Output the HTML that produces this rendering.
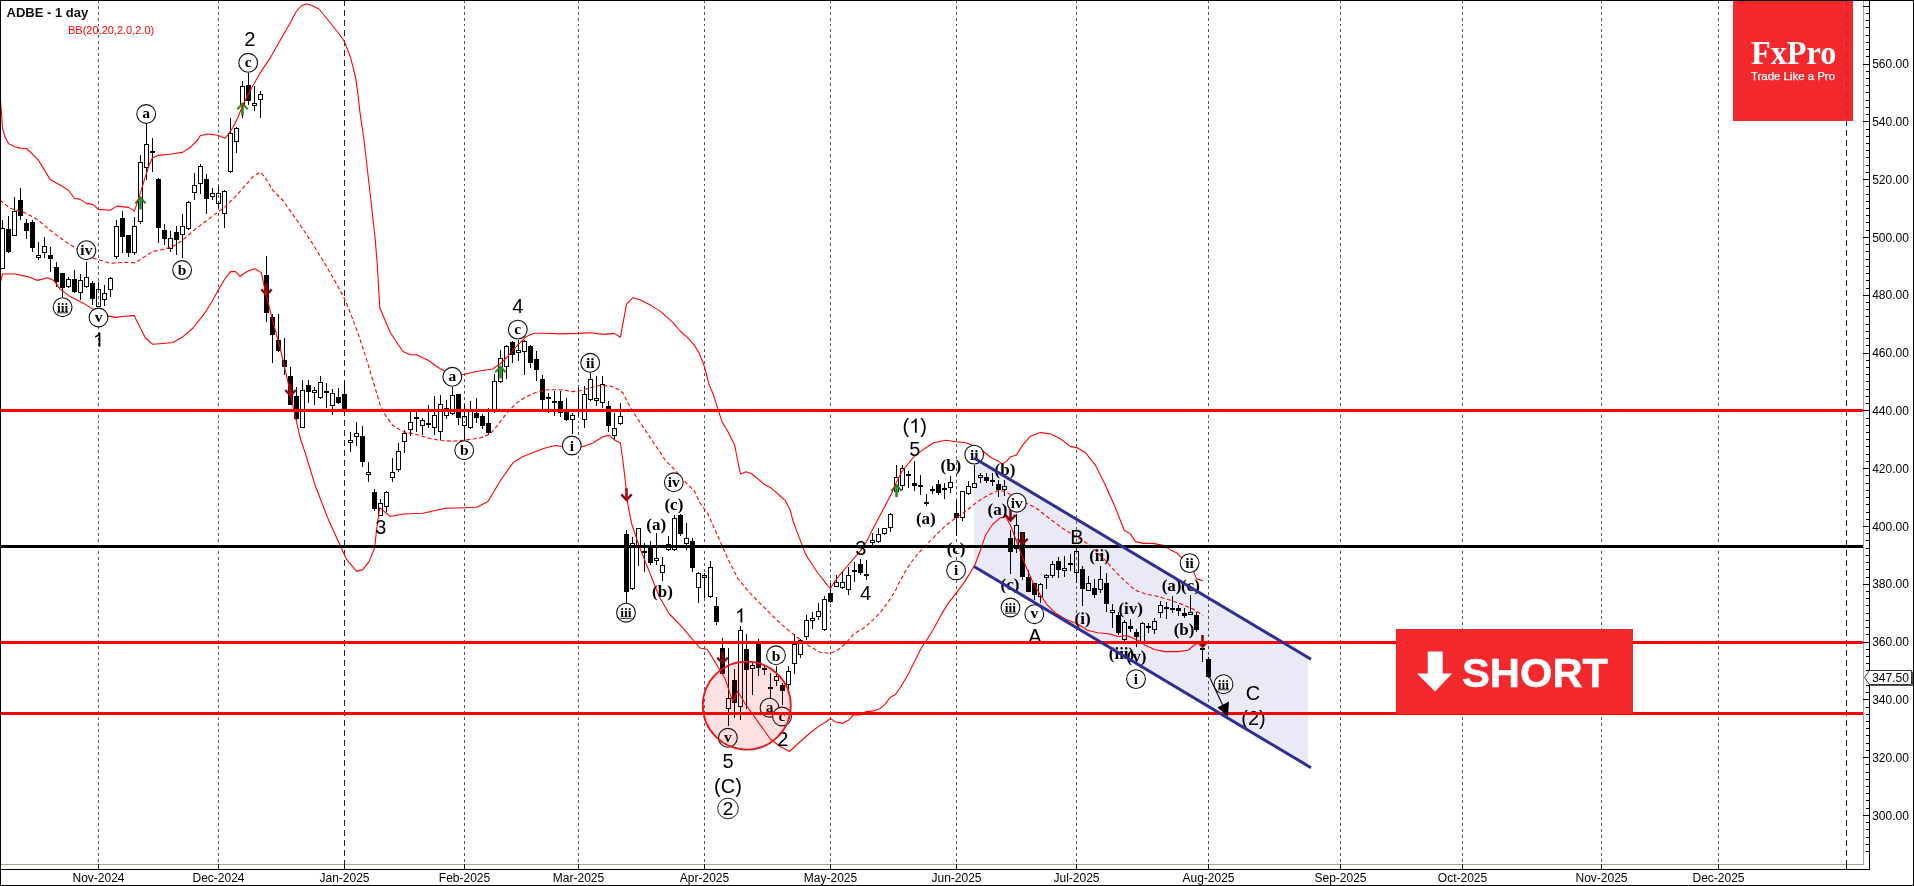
<!DOCTYPE html>
<html><head><meta charset="utf-8"><title>ADBE - 1 day</title>
<style>html,body{margin:0;padding:0;background:#fff;overflow:hidden}body{width:1914px;height:886px;font-family:"Liberation Sans",sans-serif}svg{display:block;will-change:transform}.ax{font:12px "Liberation Sans",sans-serif;fill:#000}.sn{font:20px "Liberation Sans",sans-serif;fill:#000;text-anchor:middle}.cs{font:bold 15.5px "Liberation Serif",serif;fill:#000;text-anchor:middle}.ps{font:bold 17px "Liberation Serif",serif;fill:#000;text-anchor:middle}</style></head><body>
<svg width="1914" height="886" viewBox="0 0 1914 886">
<rect x="0" y="0" width="1914" height="886" fill="#fff"/>
<polygon points="974,458 1308,658 1308,766.5 974,566.5" fill="#eaeaf6"/>
<g stroke="#555" stroke-width="1" stroke-dasharray="2.96 2.965" shape-rendering="crispEdges">
<line x1="98.5" y1="-0.175" x2="98.5" y2="864"/>
<line x1="218.5" y1="-0.175" x2="218.5" y2="864"/>
<line x1="464.5" y1="-0.175" x2="464.5" y2="864"/>
<line x1="578.5" y1="-0.175" x2="578.5" y2="864"/>
<line x1="704.5" y1="-0.175" x2="704.5" y2="864"/>
<line x1="830.5" y1="-0.175" x2="830.5" y2="864"/>
<line x1="956.5" y1="-0.175" x2="956.5" y2="864"/>
<line x1="1076.5" y1="-0.175" x2="1076.5" y2="864"/>
<line x1="1208.5" y1="-0.175" x2="1208.5" y2="864"/>
<line x1="1340.5" y1="-0.175" x2="1340.5" y2="864"/>
<line x1="1462.5" y1="-0.175" x2="1462.5" y2="864"/>
<line x1="1601.5" y1="-0.175" x2="1601.5" y2="864"/>
<line x1="1718.5" y1="-0.175" x2="1718.5" y2="864"/>
</g>
<line x1="344.5" y1="0" x2="344.5" y2="864" stroke="#222" stroke-width="1" stroke-dasharray="6 4" shape-rendering="crispEdges"/>
<line x1="1846.5" y1="0" x2="1846.5" y2="864" stroke="#222" stroke-width="1" stroke-dasharray="6 4" shape-rendering="crispEdges"/>
<g stroke="#000" stroke-width="1" fill="none" shape-rendering="crispEdges">
<line x1="2.5" y1="220" x2="2.5" y2="228"/>
<rect x="0.5" y="228.5" width="4" height="40"/>
<line x1="8.5" y1="216" x2="8.5" y2="253"/>
<rect x="6" y="229" width="5" height="23" fill="#000" stroke="none"/>
<line x1="14.5" y1="197" x2="14.5" y2="211"/>
<rect x="12.5" y="211.5" width="4" height="24"/>
<line x1="20.5" y1="188" x2="20.5" y2="220"/>
<rect x="18" y="200" width="5" height="16" fill="#000" stroke="none"/>
<line x1="26.5" y1="219" x2="26.5" y2="239"/>
<rect x="24" y="223" width="5" height="8" fill="#000" stroke="none"/>
<line x1="32.5" y1="220" x2="32.5" y2="252"/>
<rect x="30" y="222" width="5" height="26" fill="#000" stroke="none"/>
<line x1="38.5" y1="242" x2="38.5" y2="255"/>
<line x1="38.5" y1="258" x2="38.5" y2="260"/>
<rect x="36.5" y="255.5" width="4" height="2"/>
<line x1="44.5" y1="237" x2="44.5" y2="246"/>
<line x1="44.5" y1="253" x2="44.5" y2="258"/>
<rect x="42.5" y="246.5" width="4" height="6"/>
<line x1="50.5" y1="247" x2="50.5" y2="272"/>
<rect x="48" y="255" width="5" height="4" fill="#000" stroke="none"/>
<line x1="56.5" y1="262" x2="56.5" y2="287"/>
<rect x="54" y="267" width="5" height="15" fill="#000" stroke="none"/>
<line x1="62.5" y1="273" x2="62.5" y2="297"/>
<rect x="60" y="273" width="5" height="15" fill="#000" stroke="none"/>
<line x1="68.5" y1="277" x2="68.5" y2="279"/>
<line x1="68.5" y1="287" x2="68.5" y2="288"/>
<rect x="66.5" y="279.5" width="4" height="7"/>
<line x1="74.5" y1="270" x2="74.5" y2="293"/>
<rect x="72" y="279" width="5" height="13" fill="#000" stroke="none"/>
<line x1="80.5" y1="274" x2="80.5" y2="280"/>
<line x1="80.5" y1="293" x2="80.5" y2="300"/>
<rect x="78.5" y="280.5" width="4" height="12"/>
<line x1="86.5" y1="262" x2="86.5" y2="277"/>
<line x1="86.5" y1="287" x2="86.5" y2="288"/>
<rect x="84.5" y="277.5" width="4" height="9"/>
<line x1="92.5" y1="281" x2="92.5" y2="305"/>
<rect x="90" y="283" width="5" height="16" fill="#000" stroke="none"/>
<line x1="98.5" y1="282" x2="98.5" y2="289"/>
<rect x="96.5" y="289.5" width="4" height="17"/>
<line x1="104.5" y1="285" x2="104.5" y2="293"/>
<line x1="104.5" y1="300" x2="104.5" y2="306"/>
<rect x="102.5" y="293.5" width="4" height="6"/>
<line x1="110.5" y1="277" x2="110.5" y2="278"/>
<line x1="110.5" y1="290" x2="110.5" y2="297"/>
<rect x="108.5" y="278.5" width="4" height="11"/>
<line x1="116.5" y1="220" x2="116.5" y2="226"/>
<line x1="116.5" y1="257" x2="116.5" y2="259"/>
<rect x="114.5" y="226.5" width="4" height="30"/>
<line x1="122.5" y1="211" x2="122.5" y2="253"/>
<rect x="120" y="218" width="5" height="19" fill="#000" stroke="none"/>
<line x1="128.5" y1="235" x2="128.5" y2="257"/>
<rect x="126" y="235" width="5" height="18" fill="#000" stroke="none"/>
<line x1="134.5" y1="217" x2="134.5" y2="226"/>
<line x1="134.5" y1="253" x2="134.5" y2="255"/>
<rect x="132.5" y="226.5" width="4" height="26"/>
<line x1="140.5" y1="155" x2="140.5" y2="162"/>
<line x1="140.5" y1="222" x2="140.5" y2="224"/>
<rect x="138.5" y="162.5" width="4" height="59"/>
<line x1="146.5" y1="123" x2="146.5" y2="144"/>
<line x1="146.5" y1="168" x2="146.5" y2="180"/>
<rect x="144.5" y="144.5" width="4" height="23"/>
<line x1="152.5" y1="138" x2="152.5" y2="172"/>
<rect x="150" y="151" width="5" height="2" fill="#000" stroke="none"/>
<line x1="158.5" y1="178" x2="158.5" y2="243"/>
<rect x="156" y="179" width="5" height="49" fill="#000" stroke="none"/>
<line x1="164.5" y1="224" x2="164.5" y2="245"/>
<rect x="162" y="230" width="5" height="9" fill="#000" stroke="none"/>
<line x1="170.5" y1="231" x2="170.5" y2="238"/>
<line x1="170.5" y1="249" x2="170.5" y2="252"/>
<rect x="168.5" y="238.5" width="4" height="10"/>
<line x1="176.5" y1="226" x2="176.5" y2="255"/>
<rect x="174" y="232" width="5" height="8" fill="#000" stroke="none"/>
<line x1="182.5" y1="214" x2="182.5" y2="226"/>
<line x1="182.5" y1="235" x2="182.5" y2="258"/>
<rect x="180.5" y="226.5" width="4" height="8"/>
<line x1="188.5" y1="201" x2="188.5" y2="202"/>
<line x1="188.5" y1="229" x2="188.5" y2="230"/>
<rect x="186.5" y="202.5" width="4" height="26"/>
<line x1="194.5" y1="173" x2="194.5" y2="185"/>
<line x1="194.5" y1="193" x2="194.5" y2="200"/>
<rect x="192.5" y="185.5" width="4" height="7"/>
<line x1="200.5" y1="164" x2="200.5" y2="166"/>
<line x1="200.5" y1="184" x2="200.5" y2="194"/>
<rect x="198.5" y="166.5" width="4" height="17"/>
<line x1="206.5" y1="174" x2="206.5" y2="214"/>
<rect x="204" y="179" width="5" height="20" fill="#000" stroke="none"/>
<line x1="212.5" y1="188" x2="212.5" y2="193"/>
<line x1="212.5" y1="197" x2="212.5" y2="200"/>
<rect x="210.5" y="193.5" width="4" height="3"/>
<line x1="218.5" y1="186" x2="218.5" y2="193"/>
<line x1="218.5" y1="204" x2="218.5" y2="208"/>
<rect x="216.5" y="193.5" width="4" height="10"/>
<line x1="224.5" y1="190" x2="224.5" y2="191"/>
<line x1="224.5" y1="214" x2="224.5" y2="228"/>
<rect x="222.5" y="191.5" width="4" height="22"/>
<line x1="230.5" y1="118" x2="230.5" y2="133"/>
<line x1="230.5" y1="172" x2="230.5" y2="173"/>
<rect x="228.5" y="133.5" width="4" height="38"/>
<line x1="236.5" y1="127" x2="236.5" y2="128"/>
<line x1="236.5" y1="142" x2="236.5" y2="153"/>
<rect x="234.5" y="128.5" width="4" height="13"/>
<line x1="242.5" y1="81" x2="242.5" y2="86"/>
<line x1="242.5" y1="106" x2="242.5" y2="118"/>
<rect x="240.5" y="86.5" width="4" height="19"/>
<line x1="248.5" y1="73" x2="248.5" y2="105"/>
<rect x="246" y="85" width="5" height="16" fill="#000" stroke="none"/>
<line x1="254.5" y1="86" x2="254.5" y2="103"/>
<line x1="254.5" y1="106" x2="254.5" y2="111"/>
<rect x="252.5" y="103.5" width="4" height="2"/>
<line x1="260.5" y1="91" x2="260.5" y2="94"/>
<line x1="260.5" y1="100" x2="260.5" y2="118"/>
<rect x="258.5" y="94.5" width="4" height="5"/>
<line x1="266.5" y1="256" x2="266.5" y2="322"/>
<rect x="264" y="275" width="5" height="38" fill="#000" stroke="none"/>
<line x1="272.5" y1="314" x2="272.5" y2="363"/>
<rect x="270" y="317" width="5" height="18" fill="#000" stroke="none"/>
<line x1="278.5" y1="314" x2="278.5" y2="352"/>
<rect x="276" y="340" width="5" height="11" fill="#000" stroke="none"/>
<line x1="284.5" y1="338" x2="284.5" y2="375"/>
<rect x="282" y="360" width="5" height="7" fill="#000" stroke="none"/>
<line x1="290.5" y1="367" x2="290.5" y2="405"/>
<rect x="288" y="376" width="5" height="29" fill="#000" stroke="none"/>
<line x1="296.5" y1="387" x2="296.5" y2="420"/>
<rect x="294" y="396" width="5" height="23" fill="#000" stroke="none"/>
<line x1="302.5" y1="380" x2="302.5" y2="390"/>
<rect x="300.5" y="390.5" width="4" height="37"/>
<line x1="308.5" y1="380" x2="308.5" y2="403"/>
<rect x="306" y="385" width="5" height="7" fill="#000" stroke="none"/>
<line x1="314.5" y1="387" x2="314.5" y2="390"/>
<line x1="314.5" y1="393" x2="314.5" y2="405"/>
<rect x="312.5" y="390.5" width="4" height="2"/>
<line x1="320.5" y1="376" x2="320.5" y2="382"/>
<line x1="320.5" y1="398" x2="320.5" y2="399"/>
<rect x="318.5" y="382.5" width="4" height="15"/>
<line x1="326.5" y1="383" x2="326.5" y2="408"/>
<rect x="324" y="391" width="5" height="2" fill="#000" stroke="none"/>
<line x1="332.5" y1="389" x2="332.5" y2="393"/>
<line x1="332.5" y1="406" x2="332.5" y2="415"/>
<rect x="330.5" y="393.5" width="4" height="12"/>
<line x1="338.5" y1="388" x2="338.5" y2="404"/>
<rect x="336" y="397" width="5" height="6" fill="#000" stroke="none"/>
<line x1="344.5" y1="381" x2="344.5" y2="411"/>
<rect x="342" y="394" width="5" height="16" fill="#000" stroke="none"/>
<line x1="350.5" y1="432" x2="350.5" y2="440"/>
<line x1="350.5" y1="443" x2="350.5" y2="452"/>
<rect x="348.5" y="440.5" width="4" height="2"/>
<line x1="356.5" y1="422" x2="356.5" y2="433"/>
<line x1="356.5" y1="437" x2="356.5" y2="446"/>
<rect x="354.5" y="433.5" width="4" height="3"/>
<line x1="362.5" y1="426" x2="362.5" y2="467"/>
<rect x="360" y="436" width="5" height="26" fill="#000" stroke="none"/>
<line x1="368.5" y1="462" x2="368.5" y2="472"/>
<line x1="368.5" y1="475" x2="368.5" y2="482"/>
<rect x="366.5" y="472.5" width="4" height="2"/>
<line x1="374.5" y1="489" x2="374.5" y2="511"/>
<rect x="372" y="492" width="5" height="17" fill="#000" stroke="none"/>
<line x1="380.5" y1="499" x2="380.5" y2="503"/>
<rect x="378.5" y="503.5" width="4" height="12"/>
<line x1="386.5" y1="491" x2="386.5" y2="492"/>
<line x1="386.5" y1="507" x2="386.5" y2="512"/>
<rect x="384.5" y="492.5" width="4" height="14"/>
<line x1="392.5" y1="458" x2="392.5" y2="472"/>
<line x1="392.5" y1="478" x2="392.5" y2="482"/>
<rect x="390.5" y="472.5" width="4" height="5"/>
<line x1="398.5" y1="443" x2="398.5" y2="451"/>
<line x1="398.5" y1="470" x2="398.5" y2="472"/>
<rect x="396.5" y="451.5" width="4" height="18"/>
<line x1="404.5" y1="430" x2="404.5" y2="433"/>
<line x1="404.5" y1="442" x2="404.5" y2="453"/>
<rect x="402.5" y="433.5" width="4" height="8"/>
<line x1="410.5" y1="412" x2="410.5" y2="422"/>
<line x1="410.5" y1="430" x2="410.5" y2="436"/>
<rect x="408.5" y="422.5" width="4" height="7"/>
<line x1="416.5" y1="412" x2="416.5" y2="432"/>
<rect x="414" y="417" width="5" height="2" fill="#000" stroke="none"/>
<line x1="422.5" y1="418" x2="422.5" y2="420"/>
<line x1="422.5" y1="426" x2="422.5" y2="435"/>
<rect x="420.5" y="420.5" width="4" height="5"/>
<line x1="428.5" y1="405" x2="428.5" y2="428"/>
<rect x="426" y="423" width="5" height="2" fill="#000" stroke="none"/>
<line x1="434.5" y1="396" x2="434.5" y2="415"/>
<line x1="434.5" y1="428" x2="434.5" y2="435"/>
<rect x="432.5" y="415.5" width="4" height="12"/>
<line x1="440.5" y1="395" x2="440.5" y2="404"/>
<line x1="440.5" y1="432" x2="440.5" y2="440"/>
<rect x="438.5" y="404.5" width="4" height="27"/>
<line x1="446.5" y1="400" x2="446.5" y2="408"/>
<line x1="446.5" y1="416" x2="446.5" y2="419"/>
<rect x="444.5" y="408.5" width="4" height="7"/>
<line x1="452.5" y1="387" x2="452.5" y2="395"/>
<line x1="452.5" y1="414" x2="452.5" y2="415"/>
<rect x="450.5" y="395.5" width="4" height="18"/>
<line x1="458.5" y1="394" x2="458.5" y2="425"/>
<rect x="456" y="394" width="5" height="24" fill="#000" stroke="none"/>
<line x1="464.5" y1="404" x2="464.5" y2="416"/>
<line x1="464.5" y1="426" x2="464.5" y2="440"/>
<rect x="462.5" y="416.5" width="4" height="9"/>
<line x1="470.5" y1="401" x2="470.5" y2="410"/>
<line x1="470.5" y1="428" x2="470.5" y2="429"/>
<rect x="468.5" y="410.5" width="4" height="17"/>
<line x1="476.5" y1="398" x2="476.5" y2="423"/>
<rect x="474" y="413" width="5" height="5" fill="#000" stroke="none"/>
<line x1="482.5" y1="414" x2="482.5" y2="429"/>
<rect x="480" y="416" width="5" height="10" fill="#000" stroke="none"/>
<line x1="488.5" y1="408" x2="488.5" y2="435"/>
<rect x="486" y="423" width="5" height="10" fill="#000" stroke="none"/>
<line x1="494.5" y1="374" x2="494.5" y2="381"/>
<line x1="494.5" y1="410" x2="494.5" y2="413"/>
<rect x="492.5" y="381.5" width="4" height="28"/>
<line x1="500.5" y1="350" x2="500.5" y2="358"/>
<line x1="500.5" y1="382" x2="500.5" y2="383"/>
<rect x="498.5" y="358.5" width="4" height="23"/>
<line x1="506.5" y1="345" x2="506.5" y2="346"/>
<line x1="506.5" y1="367" x2="506.5" y2="379"/>
<rect x="504.5" y="346.5" width="4" height="20"/>
<line x1="512.5" y1="341" x2="512.5" y2="363"/>
<rect x="510" y="342" width="5" height="13" fill="#000" stroke="none"/>
<line x1="518.5" y1="340" x2="518.5" y2="350"/>
<line x1="518.5" y1="353" x2="518.5" y2="361"/>
<rect x="516.5" y="350.5" width="4" height="2"/>
<line x1="524.5" y1="340" x2="524.5" y2="341"/>
<line x1="524.5" y1="352" x2="524.5" y2="375"/>
<rect x="522.5" y="341.5" width="4" height="10"/>
<line x1="530.5" y1="345" x2="530.5" y2="368"/>
<rect x="528" y="346" width="5" height="17" fill="#000" stroke="none"/>
<line x1="536.5" y1="351" x2="536.5" y2="381"/>
<rect x="534" y="359" width="5" height="11" fill="#000" stroke="none"/>
<line x1="542.5" y1="375" x2="542.5" y2="410"/>
<rect x="540" y="379" width="5" height="21" fill="#000" stroke="none"/>
<line x1="548.5" y1="393" x2="548.5" y2="413"/>
<rect x="546" y="397" width="5" height="2" fill="#000" stroke="none"/>
<line x1="554.5" y1="391" x2="554.5" y2="416"/>
<rect x="552" y="401" width="5" height="2" fill="#000" stroke="none"/>
<line x1="560.5" y1="391" x2="560.5" y2="417"/>
<rect x="558" y="401" width="5" height="12" fill="#000" stroke="none"/>
<line x1="566.5" y1="398" x2="566.5" y2="421"/>
<rect x="564" y="410" width="5" height="10" fill="#000" stroke="none"/>
<line x1="572.5" y1="413" x2="572.5" y2="415"/>
<line x1="572.5" y1="420" x2="572.5" y2="434"/>
<rect x="570.5" y="415.5" width="4" height="4"/>
<line x1="578.5" y1="388" x2="578.5" y2="416"/>
<rect x="576" y="410" width="5" height="2" fill="#000" stroke="none"/>
<line x1="584.5" y1="386" x2="584.5" y2="394"/>
<line x1="584.5" y1="420" x2="584.5" y2="428"/>
<rect x="582.5" y="394.5" width="4" height="25"/>
<line x1="590.5" y1="373" x2="590.5" y2="379"/>
<line x1="590.5" y1="400" x2="590.5" y2="401"/>
<rect x="588.5" y="379.5" width="4" height="20"/>
<line x1="596.5" y1="376" x2="596.5" y2="398"/>
<line x1="596.5" y1="401" x2="596.5" y2="406"/>
<rect x="594.5" y="398.5" width="4" height="2"/>
<line x1="602.5" y1="376" x2="602.5" y2="384"/>
<line x1="602.5" y1="403" x2="602.5" y2="408"/>
<rect x="600.5" y="384.5" width="4" height="18"/>
<line x1="608.5" y1="401" x2="608.5" y2="432"/>
<rect x="606" y="406" width="5" height="20" fill="#000" stroke="none"/>
<line x1="614.5" y1="413" x2="614.5" y2="428"/>
<line x1="614.5" y1="436" x2="614.5" y2="440"/>
<rect x="612.5" y="428.5" width="4" height="7"/>
<line x1="620.5" y1="403" x2="620.5" y2="416"/>
<line x1="620.5" y1="424" x2="620.5" y2="425"/>
<rect x="618.5" y="416.5" width="4" height="7"/>
<line x1="626.5" y1="530" x2="626.5" y2="603"/>
<rect x="624" y="534" width="5" height="58" fill="#000" stroke="none"/>
<line x1="632.5" y1="537" x2="632.5" y2="543"/>
<line x1="632.5" y1="589" x2="632.5" y2="590"/>
<rect x="630.5" y="543.5" width="4" height="45"/>
<line x1="638.5" y1="548" x2="638.5" y2="566"/>
<rect x="636.5" y="528.5" width="4" height="19"/>
<line x1="644.5" y1="543" x2="644.5" y2="572"/>
<rect x="642" y="551" width="5" height="2" fill="#000" stroke="none"/>
<line x1="650.5" y1="541" x2="650.5" y2="565"/>
<rect x="648" y="546" width="5" height="17" fill="#000" stroke="none"/>
<line x1="656.5" y1="533" x2="656.5" y2="558"/>
<line x1="656.5" y1="561" x2="656.5" y2="565"/>
<rect x="654.5" y="558.5" width="4" height="2"/>
<line x1="662.5" y1="557" x2="662.5" y2="565"/>
<line x1="662.5" y1="573" x2="662.5" y2="581"/>
<rect x="660.5" y="565.5" width="4" height="7"/>
<line x1="668.5" y1="536" x2="668.5" y2="544"/>
<line x1="668.5" y1="550" x2="668.5" y2="551"/>
<rect x="666.5" y="544.5" width="4" height="5"/>
<line x1="674.5" y1="515" x2="674.5" y2="518"/>
<line x1="674.5" y1="550" x2="674.5" y2="551"/>
<rect x="672.5" y="518.5" width="4" height="31"/>
<line x1="680.5" y1="514" x2="680.5" y2="536"/>
<rect x="678" y="515" width="5" height="19" fill="#000" stroke="none"/>
<line x1="686.5" y1="523" x2="686.5" y2="538"/>
<line x1="686.5" y1="544" x2="686.5" y2="550"/>
<rect x="684.5" y="538.5" width="4" height="5"/>
<line x1="692.5" y1="538" x2="692.5" y2="572"/>
<rect x="690" y="541" width="5" height="27" fill="#000" stroke="none"/>
<line x1="698.5" y1="572" x2="698.5" y2="573"/>
<line x1="698.5" y1="588" x2="698.5" y2="603"/>
<rect x="696.5" y="573.5" width="4" height="14"/>
<line x1="704.5" y1="573" x2="704.5" y2="575"/>
<line x1="704.5" y1="578" x2="704.5" y2="598"/>
<rect x="702.5" y="575.5" width="4" height="2"/>
<line x1="710.5" y1="561" x2="710.5" y2="567"/>
<line x1="710.5" y1="597" x2="710.5" y2="598"/>
<rect x="708.5" y="567.5" width="4" height="29"/>
<line x1="716.5" y1="597" x2="716.5" y2="625"/>
<rect x="714" y="606" width="5" height="16" fill="#000" stroke="none"/>
<line x1="722.5" y1="638" x2="722.5" y2="675"/>
<rect x="720" y="648" width="5" height="26" fill="#000" stroke="none"/>
<line x1="728.5" y1="648" x2="728.5" y2="698"/>
<line x1="728.5" y1="709" x2="728.5" y2="726"/>
<rect x="726.5" y="698.5" width="4" height="10"/>
<line x1="734.5" y1="669" x2="734.5" y2="718"/>
<rect x="732" y="680" width="5" height="23" fill="#000" stroke="none"/>
<line x1="740.5" y1="626" x2="740.5" y2="630"/>
<line x1="740.5" y1="707" x2="740.5" y2="720"/>
<rect x="738.5" y="630.5" width="4" height="76"/>
<line x1="746.5" y1="634" x2="746.5" y2="709"/>
<rect x="744" y="649" width="5" height="21" fill="#000" stroke="none"/>
<line x1="752.5" y1="663" x2="752.5" y2="665"/>
<line x1="752.5" y1="669" x2="752.5" y2="695"/>
<rect x="750.5" y="665.5" width="4" height="3"/>
<line x1="758.5" y1="639" x2="758.5" y2="676"/>
<rect x="756" y="644" width="5" height="24" fill="#000" stroke="none"/>
<line x1="764.5" y1="665" x2="764.5" y2="675"/>
<rect x="762" y="668" width="5" height="2" fill="#000" stroke="none"/>
<line x1="770.5" y1="673" x2="770.5" y2="698"/>
<rect x="768" y="687" width="5" height="2" fill="#000" stroke="none"/>
<line x1="776.5" y1="666" x2="776.5" y2="676"/>
<line x1="776.5" y1="681" x2="776.5" y2="686"/>
<rect x="774.5" y="676.5" width="4" height="4"/>
<line x1="782.5" y1="683" x2="782.5" y2="705"/>
<rect x="780" y="685" width="5" height="6" fill="#000" stroke="none"/>
<line x1="788.5" y1="666" x2="788.5" y2="671"/>
<line x1="788.5" y1="685" x2="788.5" y2="689"/>
<rect x="786.5" y="671.5" width="4" height="13"/>
<line x1="794.5" y1="634" x2="794.5" y2="644"/>
<line x1="794.5" y1="664" x2="794.5" y2="674"/>
<rect x="792.5" y="644.5" width="4" height="19"/>
<line x1="800.5" y1="639" x2="800.5" y2="640"/>
<line x1="800.5" y1="655" x2="800.5" y2="658"/>
<rect x="798.5" y="640.5" width="4" height="14"/>
<line x1="806.5" y1="615" x2="806.5" y2="620"/>
<line x1="806.5" y1="637" x2="806.5" y2="640"/>
<rect x="804.5" y="620.5" width="4" height="16"/>
<line x1="812.5" y1="612" x2="812.5" y2="618"/>
<line x1="812.5" y1="621" x2="812.5" y2="629"/>
<rect x="810.5" y="618.5" width="4" height="2"/>
<line x1="818.5" y1="603" x2="818.5" y2="611"/>
<line x1="818.5" y1="617" x2="818.5" y2="620"/>
<rect x="816.5" y="611.5" width="4" height="5"/>
<line x1="824.5" y1="596" x2="824.5" y2="599"/>
<line x1="824.5" y1="630" x2="824.5" y2="631"/>
<rect x="822.5" y="599.5" width="4" height="30"/>
<line x1="830.5" y1="583" x2="830.5" y2="603"/>
<rect x="828" y="593" width="5" height="9" fill="#000" stroke="none"/>
<line x1="836.5" y1="575" x2="836.5" y2="582"/>
<rect x="834.5" y="582.5" width="4" height="4"/>
<line x1="842.5" y1="572" x2="842.5" y2="582"/>
<line x1="842.5" y1="588" x2="842.5" y2="589"/>
<rect x="840.5" y="582.5" width="4" height="5"/>
<line x1="848.5" y1="567" x2="848.5" y2="575"/>
<line x1="848.5" y1="590" x2="848.5" y2="595"/>
<rect x="846.5" y="575.5" width="4" height="14"/>
<line x1="854.5" y1="562" x2="854.5" y2="582"/>
<rect x="852" y="570" width="5" height="2" fill="#000" stroke="none"/>
<line x1="860.5" y1="559" x2="860.5" y2="575"/>
<rect x="858" y="564" width="5" height="9" fill="#000" stroke="none"/>
<line x1="866.5" y1="560" x2="866.5" y2="580"/>
<rect x="864" y="574" width="5" height="2" fill="#000" stroke="none"/>
<line x1="872.5" y1="533" x2="872.5" y2="540"/>
<line x1="872.5" y1="543" x2="872.5" y2="548"/>
<rect x="870.5" y="540.5" width="4" height="2"/>
<line x1="878.5" y1="528" x2="878.5" y2="534"/>
<line x1="878.5" y1="542" x2="878.5" y2="543"/>
<rect x="876.5" y="534.5" width="4" height="7"/>
<line x1="884.5" y1="534" x2="884.5" y2="535"/>
<rect x="882.5" y="528.5" width="4" height="5"/>
<line x1="890.5" y1="513" x2="890.5" y2="514"/>
<line x1="890.5" y1="528" x2="890.5" y2="532"/>
<rect x="888.5" y="514.5" width="4" height="13"/>
<line x1="896.5" y1="465" x2="896.5" y2="477"/>
<line x1="896.5" y1="492" x2="896.5" y2="496"/>
<rect x="894.5" y="477.5" width="4" height="14"/>
<line x1="902.5" y1="465" x2="902.5" y2="468"/>
<line x1="902.5" y1="486" x2="902.5" y2="490"/>
<rect x="900.5" y="468.5" width="4" height="17"/>
<line x1="908.5" y1="471" x2="908.5" y2="488"/>
<rect x="906" y="474" width="5" height="2" fill="#000" stroke="none"/>
<line x1="914.5" y1="461" x2="914.5" y2="491"/>
<rect x="912" y="483" width="5" height="3" fill="#000" stroke="none"/>
<line x1="920.5" y1="475" x2="920.5" y2="495"/>
<rect x="918" y="485" width="5" height="2" fill="#000" stroke="none"/>
<line x1="926.5" y1="494" x2="926.5" y2="506"/>
<rect x="924" y="502" width="5" height="2" fill="#000" stroke="none"/>
<line x1="932.5" y1="486" x2="932.5" y2="494"/>
<rect x="930" y="489" width="5" height="2" fill="#000" stroke="none"/>
<line x1="938.5" y1="480" x2="938.5" y2="495"/>
<rect x="936" y="484" width="5" height="9" fill="#000" stroke="none"/>
<line x1="944.5" y1="483" x2="944.5" y2="499"/>
<rect x="942" y="488" width="5" height="2" fill="#000" stroke="none"/>
<line x1="950.5" y1="476" x2="950.5" y2="482"/>
<line x1="950.5" y1="488" x2="950.5" y2="493"/>
<rect x="948.5" y="482.5" width="4" height="5"/>
<line x1="956.5" y1="500" x2="956.5" y2="536"/>
<rect x="954" y="513" width="5" height="5" fill="#000" stroke="none"/>
<line x1="962.5" y1="518" x2="962.5" y2="521"/>
<rect x="960.5" y="491.5" width="4" height="26"/>
<line x1="968.5" y1="481" x2="968.5" y2="486"/>
<line x1="968.5" y1="494" x2="968.5" y2="495"/>
<rect x="966.5" y="486.5" width="4" height="7"/>
<line x1="974.5" y1="465" x2="974.5" y2="483"/>
<rect x="972.5" y="483.5" width="4" height="4"/>
<line x1="980.5" y1="473" x2="980.5" y2="475"/>
<line x1="980.5" y1="478" x2="980.5" y2="483"/>
<rect x="978.5" y="475.5" width="4" height="2"/>
<line x1="986.5" y1="473" x2="986.5" y2="483"/>
<rect x="984" y="477" width="5" height="4" fill="#000" stroke="none"/>
<line x1="992.5" y1="473" x2="992.5" y2="486"/>
<rect x="990" y="480" width="5" height="2" fill="#000" stroke="none"/>
<line x1="998.5" y1="480" x2="998.5" y2="497"/>
<rect x="996" y="484" width="5" height="6" fill="#000" stroke="none"/>
<line x1="1004.5" y1="480" x2="1004.5" y2="486"/>
<line x1="1004.5" y1="490" x2="1004.5" y2="496"/>
<rect x="1002.5" y="486.5" width="4" height="3"/>
<line x1="1010.5" y1="530" x2="1010.5" y2="574"/>
<rect x="1008" y="538" width="5" height="14" fill="#000" stroke="none"/>
<line x1="1016.5" y1="514" x2="1016.5" y2="525"/>
<line x1="1016.5" y1="549" x2="1016.5" y2="553"/>
<rect x="1014.5" y="525.5" width="4" height="23"/>
<line x1="1022.5" y1="532" x2="1022.5" y2="580"/>
<rect x="1020" y="532" width="5" height="45" fill="#000" stroke="none"/>
<line x1="1028.5" y1="570" x2="1028.5" y2="592"/>
<rect x="1026" y="577" width="5" height="15" fill="#000" stroke="none"/>
<line x1="1034.5" y1="583" x2="1034.5" y2="600"/>
<rect x="1032" y="583" width="5" height="12" fill="#000" stroke="none"/>
<line x1="1040.5" y1="583" x2="1040.5" y2="584"/>
<line x1="1040.5" y1="597" x2="1040.5" y2="603"/>
<rect x="1038.5" y="584.5" width="4" height="12"/>
<line x1="1046.5" y1="574" x2="1046.5" y2="575"/>
<line x1="1046.5" y1="578" x2="1046.5" y2="589"/>
<rect x="1044.5" y="575.5" width="4" height="2"/>
<line x1="1052.5" y1="561" x2="1052.5" y2="564"/>
<line x1="1052.5" y1="576" x2="1052.5" y2="578"/>
<rect x="1050.5" y="564.5" width="4" height="11"/>
<line x1="1058.5" y1="557" x2="1058.5" y2="578"/>
<rect x="1056" y="561" width="5" height="9" fill="#000" stroke="none"/>
<line x1="1064.5" y1="556" x2="1064.5" y2="568"/>
<line x1="1064.5" y1="571" x2="1064.5" y2="577"/>
<rect x="1062.5" y="568.5" width="4" height="2"/>
<line x1="1070.5" y1="554" x2="1070.5" y2="571"/>
<rect x="1068" y="563" width="5" height="2" fill="#000" stroke="none"/>
<line x1="1076.5" y1="548" x2="1076.5" y2="551"/>
<line x1="1076.5" y1="573" x2="1076.5" y2="583"/>
<rect x="1074.5" y="551.5" width="4" height="21"/>
<line x1="1082.5" y1="566" x2="1082.5" y2="606"/>
<rect x="1080" y="569" width="5" height="20" fill="#000" stroke="none"/>
<line x1="1088.5" y1="576" x2="1088.5" y2="583"/>
<rect x="1086.5" y="583.5" width="4" height="7"/>
<line x1="1094.5" y1="579" x2="1094.5" y2="598"/>
<rect x="1092" y="588" width="5" height="7" fill="#000" stroke="none"/>
<line x1="1100.5" y1="566" x2="1100.5" y2="579"/>
<line x1="1100.5" y1="590" x2="1100.5" y2="593"/>
<rect x="1098.5" y="579.5" width="4" height="10"/>
<line x1="1106.5" y1="573" x2="1106.5" y2="612"/>
<rect x="1104" y="583" width="5" height="21" fill="#000" stroke="none"/>
<line x1="1112.5" y1="604" x2="1112.5" y2="610"/>
<line x1="1112.5" y1="613" x2="1112.5" y2="628"/>
<rect x="1110.5" y="610.5" width="4" height="2"/>
<line x1="1118.5" y1="612" x2="1118.5" y2="635"/>
<rect x="1116" y="615" width="5" height="18" fill="#000" stroke="none"/>
<line x1="1124.5" y1="620" x2="1124.5" y2="622"/>
<line x1="1124.5" y1="640" x2="1124.5" y2="641"/>
<rect x="1122.5" y="622.5" width="4" height="17"/>
<line x1="1130.5" y1="619" x2="1130.5" y2="632"/>
<rect x="1128" y="626" width="5" height="3" fill="#000" stroke="none"/>
<line x1="1136.5" y1="629" x2="1136.5" y2="647"/>
<rect x="1134" y="632" width="5" height="5" fill="#000" stroke="none"/>
<line x1="1142.5" y1="622" x2="1142.5" y2="623"/>
<rect x="1140.5" y="623.5" width="4" height="18"/>
<line x1="1148.5" y1="623" x2="1148.5" y2="633"/>
<rect x="1146" y="626" width="5" height="2" fill="#000" stroke="none"/>
<line x1="1154.5" y1="618" x2="1154.5" y2="621"/>
<line x1="1154.5" y1="630" x2="1154.5" y2="634"/>
<rect x="1152.5" y="621.5" width="4" height="8"/>
<line x1="1160.5" y1="601" x2="1160.5" y2="605"/>
<line x1="1160.5" y1="613" x2="1160.5" y2="618"/>
<rect x="1158.5" y="605.5" width="4" height="7"/>
<line x1="1166.5" y1="602" x2="1166.5" y2="619"/>
<rect x="1164" y="607" width="5" height="2" fill="#000" stroke="none"/>
<line x1="1172.5" y1="596" x2="1172.5" y2="613"/>
<rect x="1170" y="608" width="5" height="2" fill="#000" stroke="none"/>
<line x1="1178.5" y1="605" x2="1178.5" y2="616"/>
<rect x="1176" y="608" width="5" height="3" fill="#000" stroke="none"/>
<line x1="1184.5" y1="608" x2="1184.5" y2="618"/>
<rect x="1182" y="613" width="5" height="3" fill="#000" stroke="none"/>
<line x1="1190.5" y1="595" x2="1190.5" y2="612"/>
<rect x="1188.5" y="612.5" width="4" height="2"/>
<line x1="1196.5" y1="612" x2="1196.5" y2="632"/>
<rect x="1194" y="615" width="5" height="15" fill="#000" stroke="none"/>
<line x1="1202.5" y1="643" x2="1202.5" y2="662"/>
<rect x="1200" y="648" width="5" height="2" fill="#000" stroke="none"/>
<line x1="1208.5" y1="657" x2="1208.5" y2="678"/>
<rect x="1206" y="659" width="5" height="18" fill="#000" stroke="none"/>
</g>
<g stroke="#1c8c1c" fill="none"><path d="M140.5,198.5 V209.5" stroke-width="2.6"/><path d="M135.3,203.3 L140.5,197.5 L145.7,203.3" stroke-width="2"/></g>
<g stroke="#1c8c1c" fill="none"><path d="M242.5,104.5 V115.5" stroke-width="2.6"/><path d="M237.3,109.3 L242.5,103.5 L247.7,109.3" stroke-width="2"/></g>
<g stroke="#1c8c1c" fill="none"><path d="M500.5,367.5 V378.5" stroke-width="2.6"/><path d="M495.3,372.3 L500.5,366.5 L505.7,372.3" stroke-width="2"/></g>
<g stroke="#1c8c1c" fill="none"><path d="M896.5,486 V497" stroke-width="2.6"/><path d="M891.3,490.8 L896.5,485 L901.7,490.8" stroke-width="2"/></g>
<g stroke="#7d0b10" fill="none"><path d="M266.5,283.2 V294" stroke-width="2.6"/><path d="M261.3,289.4 L266.5,295 L271.7,289.4" stroke-width="2.3"/></g>
<g stroke="#7d0b10" fill="none"><path d="M290.5,383.8 V394.6" stroke-width="2.6"/><path d="M285.3,390.0 L290.5,395.6 L295.7,390.0" stroke-width="2.3"/></g>
<g stroke="#7d0b10" fill="none"><path d="M626.5,488.2 V499" stroke-width="2.6"/><path d="M621.3,494.4 L626.5,500 L631.7,494.4" stroke-width="2.3"/></g>
<g stroke="#7d0b10" fill="none"><path d="M722.5,651.4000000000001 V662.2" stroke-width="2.6"/><path d="M717.3,657.6 L722.5,663.2 L727.7,657.6" stroke-width="2.3"/></g>
<g stroke="#7d0b10" fill="none"><path d="M1010.5,508.7 V519.5" stroke-width="2.6"/><path d="M1005.3,514.9 L1010.5,520.5 L1015.7,514.9" stroke-width="2.3"/></g>
<g stroke="#7d0b10" fill="none"><path d="M1022.5,532.5 V543.3" stroke-width="2.6"/><path d="M1017.3,538.6999999999999 L1022.5,544.3 L1027.7,538.6999999999999" stroke-width="2.3"/></g>
<g stroke="#7d0b10" fill="none"><path d="M1202.5,635.0 V645.8" stroke-width="2.6"/><path d="M1197.3,641.1999999999999 L1202.5,646.8 L1207.7,641.1999999999999" stroke-width="2.3"/></g>
<path d="M0.5,100.0 L1.7,115.0 L2.5,128.4 L5.0,136.8 L8.4,143.4 L14.2,146.5 L20.0,148.1 L26.7,148.5 L38.4,160.1 L50.1,179.4 L61.8,186.0 L68.5,190.2 L74.3,198.2 L80.2,199.4 L86.8,203.6 L92.7,204.4 L98.5,209.4 L110.2,210.3 L116.9,206.1 L128.6,207.4 L134.4,211.1 L138.6,198.6 L145.3,176.8 L149.2,165.0 L152.3,158.0 L157.6,155.4 L170.0,154.2 L182.6,152.4 L191.0,146.7 L197.7,140.0 L200.2,135.8 L207.7,134.0 L217.7,135.3 L225.3,138.3 L232.8,127.8 L237.8,117.7 L242.8,105.2 L250.3,90.2 L260.4,72.6 L270.4,57.6 L280.4,40.0 L290.4,22.5 L296.0,12.0 L301.0,6.0 L306.0,4.0 L311.0,5.0 L319.0,9.0 L328.0,20.0 L338.0,32.5 L344.3,41.3 L350.6,57.6 L355.6,77.6 L358.1,95.2 L360.0,112.7 L364.0,140.0 L368.0,175.0 L372.0,210.0 L375.3,240.0 L377.3,265.0 L379.8,307.7 L390.4,332.7 L402.9,351.5 L410.4,354.8 L416.7,354.8 L428.0,360.3 L440.5,369.0 L448.0,372.3 L455.9,374.0 L463.0,374.8 L476.0,371.5 L492.5,369.0 L500.0,364.0 L507.6,356.5 L517.6,345.2 L526.4,336.4 L533.9,333.2 L545.2,333.2 L560.2,333.9 L577.7,333.4 L590.3,332.7 L602.8,334.4 L614.1,333.4 L620.4,337.2 L626.6,303.9 L632.9,297.6 L640.4,300.1 L650.4,305.1 L660.5,311.4 L673.0,322.7 L680.0,331.0 L687.7,337.7 L694.4,345.4 L699.2,353.0 L704.4,366.5 L708.8,383.7 L713.6,395.3 L718.4,410.6 L722.2,422.1 L728.0,431.7 L734.7,445.2 L737.6,460.5 L740.5,474.0 L746.2,471.7 L752.0,474.0 L758.7,479.7 L764.5,484.5 L770.2,487.4 L776.0,492.2 L780.0,496.0 L785.2,500.3 L790.3,510.3 L792.8,520.4 L796.5,530.4 L800.3,540.4 L804.0,550.4 L807.8,557.9 L812.8,565.5 L817.8,573.0 L822.8,579.2 L826.6,584.3 L830.4,588.5 L835.4,580.5 L840.4,574.2 L847.9,565.5 L855.4,556.7 L862.9,547.9 L866.5,541.5 L872.4,530.0 L877.3,520.6 L884.2,507.4 L891.3,494.0 L896.1,482.9 L901.6,471.9 L908.0,464.0 L913.1,457.7 L920.6,451.4 L933.5,442.8 L946.0,440.2 L956.0,441.8 L966.1,442.8 L978.7,447.8 L991.2,457.8 L997.0,460.5 L1002.7,463.9 L1006.4,461.4 L1010.2,457.1 L1016.4,455.1 L1022.7,445.1 L1030.2,436.3 L1040.3,432.6 L1050.3,433.8 L1060.3,438.8 L1070.3,446.4 L1076.6,447.6 L1085.4,452.6 L1095.4,465.2 L1105.4,485.2 L1115.4,507.8 L1120.2,520.0 L1124.2,530.3 L1130.5,534.1 L1135.5,541.6 L1143.0,543.4 L1153.0,543.4 L1163.1,545.4 L1170.6,549.9 L1177.0,553.0 L1185.4,561.4 L1192.9,570.1 L1196.6,578.9 L1202.9,580.7" fill="none" stroke="#f00" stroke-width="1.1" stroke-linejoin="round"/>
<path d="M0.0,284.0 L2.5,274.0 L15.0,274.0 L27.6,276.6 L37.6,280.4 L47.6,277.8 L53.9,280.4 L60.2,289.1 L70.2,296.6 L82.7,302.9 L95.2,310.4 L105.3,315.4 L115.3,317.4 L125.3,316.2 L134.1,315.4 L139.1,325.5 L145.4,338.0 L152.9,344.3 L162.9,343.5 L172.9,342.5 L183.0,336.7 L193.0,328.0 L203.0,315.4 L210.5,304.2 L218.0,290.4 L225.6,277.8 L230.6,271.6 L235.6,271.6 L240.0,276.3 L247.5,271.3 L255.0,268.8 L261.3,272.6 L265.0,290.1 L272.6,320.2 L280.1,347.8 L287.6,380.4 L293.9,410.4 L300.2,438.0 L305.1,452.6 L315.1,485.2 L327.6,517.7 L338.9,542.8 L346.4,559.1 L356.4,571.1 L362.7,569.9 L369.0,561.6 L374.7,547.8 L376.5,530.3 L379.7,507.7 L390.3,516.5 L402.8,514.0 L422.9,513.2 L445.4,508.2 L465.5,507.7 L476.7,507.2 L488.0,501.5 L500.6,480.2 L513.1,462.6 L522.6,456.7 L535.1,451.7 L545.2,448.0 L555.2,445.5 L562.7,446.7 L582.8,446.7 L592.8,443.0 L602.8,436.7 L609.1,435.4 L615.3,440.5 L620.4,443.0 L622.9,460.5 L625.4,482.0 L628.0,505.0 L631.6,523.7 L639.2,546.3 L649.2,571.4 L659.2,596.5 L669.3,614.0 L681.8,626.6 L694.4,641.7 L700.0,648.0 L707.0,649.2 L710.0,653.6 L717.6,666.2 L725.1,678.7 L732.6,701.3 L737.7,691.3 L745.2,703.8 L757.7,721.4 L770.3,739.0 L780.3,746.5 L789.4,751.5 L800.4,741.5 L810.0,733.0 L820.0,725.4 L826.3,721.7 L830.5,718.4 L835.0,721.7 L842.6,723.4 L848.8,719.9 L853.8,714.6 L860.1,714.9 L866.4,711.6 L873.9,710.9 L880.2,708.4 L885.2,704.1 L890.2,697.3 L895.2,694.8 L900.2,687.8 L907.7,675.3 L915.2,660.3 L921.5,647.7 L926.5,640.2 L932.8,630.2 L940.3,616.4 L947.8,603.9 L956.6,592.6 L964.1,582.6 L970.4,572.5 L975.4,563.8 L980.4,550.3 L985.4,535.3 L993.0,524.0 L1000.5,517.7 L1005.5,516.5 L1010.5,525.3 L1018.0,545.3 L1025.5,565.4 L1033.1,582.9 L1040.6,595.4 L1047.5,605.2 L1055.0,612.7 L1065.1,619.0 L1077.6,624.0 L1087.6,630.3 L1097.6,632.8 L1110.2,634.0 L1117.7,636.5 L1127.7,635.8 L1137.7,640.3 L1145.3,645.3 L1155.3,649.8 L1165.3,651.6 L1177.8,651.6 L1187.9,650.3 L1194.1,645.3 L1197.9,642.8 L1202.9,647.8" fill="none" stroke="#f00" stroke-width="1.1" stroke-linejoin="round"/>
<path d="M0.0,200.2 L10.0,208.2 L25.0,212.7 L37.6,219.7 L50.1,230.2 L65.2,241.5 L75.2,247.8 L87.7,256.5 L100.3,260.3 L110.3,263.3 L125.3,262.3 L135.3,262.8 L142.9,257.8 L152.9,251.5 L165.4,249.0 L175.4,245.3 L185.5,237.7 L195.5,229.0 L205.5,221.5 L215.5,213.9 L225.6,206.4 L235.6,196.4 L245.3,185.4 L252.8,176.6 L260.4,172.1 L265.4,177.9 L272.9,190.4 L282.9,200.5 L295.4,218.0 L310.2,240.0 L322.7,260.0 L335.2,281.4 L344.0,297.6 L350.3,312.7 L357.8,332.7 L365.3,355.3 L372.8,380.4 L380.4,405.4 L385.4,415.4 L392.9,425.5 L402.9,431.7 L415.4,434.2 L428.0,438.0 L440.5,440.5 L453.0,441.3 L465.6,440.0 L480.0,438.0 L490.0,434.2 L497.5,425.4 L505.1,415.4 L515.1,404.1 L525.1,397.3 L535.1,392.8 L547.7,389.8 L560.2,389.8 L572.7,391.6 L580.3,390.8 L590.3,387.8 L600.3,385.3 L610.3,386.1 L617.8,389.1 L622.9,392.8 L627.9,402.9 L635.4,415.4 L645.4,430.4 L655.4,445.5 L665.5,460.5 L675.5,470.5 L681.8,478.5 L694.4,491.0 L700.0,503.0 L707.5,513.0 L717.6,535.6 L727.6,558.2 L737.7,578.3 L750.2,593.4 L765.3,608.5 L780.3,623.5 L795.4,636.0 L805.4,643.6 L820.0,652.2 L830.0,653.5 L837.5,650.2 L845.1,644.0 L853.8,633.9 L862.6,628.9 L870.1,622.7 L880.2,612.6 L887.7,602.6 L895.2,591.3 L897.6,585.6 L905.7,570.7 L913.9,558.6 L923.3,547.7 L934.2,536.9 L945.0,526.1 L955.8,517.9 L966.7,510.5 L977.5,501.7 L988.4,494.9 L997.8,490.8 L1005.5,491.4 L1015.5,497.7 L1025.5,502.7 L1035.6,507.7 L1050.1,519.0 L1065.0,530.0 L1077.6,537.5 L1090.1,545.1 L1102.7,557.6 L1115.2,571.4 L1125.2,581.4 L1135.2,590.2 L1145.3,593.9 L1157.8,596.4 L1170.3,600.2 L1182.9,604.7 L1192.9,609.0 L1202.9,615.2" fill="none" stroke="#f00" stroke-width="1.1" stroke-dasharray="4 2.5" stroke-linejoin="round"/>
<text class="sn" x="249.7" y="45.900000000000006">2</text>
<path d="M100.39,346.70 L98.63,346.70 L98.63,335.50 L97.53,336.45 L95.12,337.64 L95.12,335.94 L97.14,334.98 L98.41,333.61 L99.26,332.38 L100.39,332.38 Z" fill="#000"/>
<text class="sn" x="517.7" y="312.5">4</text>
<text class="sn" x="380.8" y="533.7">3</text>
<path d="M742.29,622.50 L740.53,622.50 L740.53,611.30 L739.43,612.25 L737.02,613.44 L737.02,611.74 L739.04,610.78 L740.31,609.41 L741.16,608.18 L742.29,608.18 Z" fill="#000"/>
<text class="sn" x="728" y="767.6">5</text>
<text class="sn" x="728" y="792.6">(C)</text>
<text class="sn" x="782.8" y="746.2">2</text>
<text class="sn" x="902.58" y="432.7" style="text-anchor:start">(</text>
<path d="M916.69,432.70 L914.93,432.70 L914.93,421.50 L913.83,422.45 L911.42,423.64 L911.42,421.94 L913.44,420.98 L914.71,419.61 L915.56,418.38 L916.69,418.38 Z" fill="#000"/>
<text class="sn" x="920.36" y="432.7" style="text-anchor:start">)</text>
<text class="sn" x="914.8" y="456.0">5</text>
<text class="sn" x="860.9" y="555.0">3</text>
<text class="sn" x="865.6" y="599.6">4</text>
<text class="sn" x="1034.8" y="642.7">A</text>
<text class="sn" x="1076.8" y="543.5">B</text>
<text class="sn" x="1253" y="700.2">C</text>
<text class="sn" x="1253.5" y="725.2">(2)</text>
<circle cx="248.2" cy="62.8" r="9.4" fill="#fff" stroke="#111" stroke-width="1.1"/>
<text class="cs" x="248.2" y="67.0">c</text>
<circle cx="146.2" cy="114" r="9.4" fill="#fff" stroke="#111" stroke-width="1.1"/>
<text class="cs" x="146.2" y="118.2">a</text>
<circle cx="86.4" cy="250.2" r="9.4" fill="#fff" stroke="#111" stroke-width="1.1"/>
<text class="cs" x="86.4" y="255.2">iv</text>
<circle cx="182.1" cy="270" r="9.4" fill="#fff" stroke="#111" stroke-width="1.1"/>
<text class="cs" x="182.1" y="275.2">b</text>
<circle cx="62.6" cy="307.2" r="9.4" fill="#fff" stroke="#111" stroke-width="1.1"/>
<line x1="57.0" y1="312.8" x2="68.2" y2="312.8" stroke="#000" stroke-width="0.9"/>
<text class="cs" x="62.6" y="311.59999999999997" style="font-size:13.5px">iii</text>
<circle cx="98.5" cy="317.5" r="9.4" fill="#fff" stroke="#111" stroke-width="1.1"/>
<text class="cs" x="98.5" y="321.7">v</text>
<circle cx="452.3" cy="376.8" r="9.4" fill="#fff" stroke="#111" stroke-width="1.1"/>
<text class="cs" x="452.3" y="381.0">a</text>
<circle cx="464.2" cy="450.2" r="9.4" fill="#fff" stroke="#111" stroke-width="1.1"/>
<text class="cs" x="464.2" y="455.4">b</text>
<circle cx="517.8" cy="329.6" r="9.4" fill="#fff" stroke="#111" stroke-width="1.1"/>
<text class="cs" x="517.8" y="333.8">c</text>
<circle cx="590.2" cy="362.8" r="9.4" fill="#fff" stroke="#111" stroke-width="1.1"/>
<text class="cs" x="590.2" y="367.8">ii</text>
<circle cx="571.8" cy="445.5" r="9.4" fill="#fff" stroke="#111" stroke-width="1.1"/>
<text class="cs" x="571.8" y="450.5">i</text>
<circle cx="673.8" cy="482.3" r="9.4" fill="#fff" stroke="#111" stroke-width="1.1"/>
<text class="cs" x="673.8" y="487.3">iv</text>
<circle cx="626" cy="612.7" r="9.4" fill="#fff" stroke="#111" stroke-width="1.1"/>
<line x1="620.4" y1="618.3000000000001" x2="631.6" y2="618.3000000000001" stroke="#000" stroke-width="0.9"/>
<text class="cs" x="626" y="617.1" style="font-size:13.5px">iii</text>
<circle cx="776" cy="655.3" r="9.4" fill="#fff" stroke="#111" stroke-width="1.1"/>
<text class="cs" x="776" y="660.5">b</text>
<circle cx="727.9" cy="737.8" r="9.4" fill="#fff" stroke="#111" stroke-width="1.1"/>
<text class="cs" x="727.9" y="742.0">v</text>
<circle cx="769.5" cy="707.7" r="9.4" fill="#fff" stroke="#111" stroke-width="1.1"/>
<text class="cs" x="769.5" y="711.9000000000001">a</text>
<circle cx="782" cy="716.5" r="9.4" fill="#fff" stroke="#111" stroke-width="1.1"/>
<text class="cs" x="782" y="720.7">c</text>
<circle cx="974.2" cy="454.6" r="9.4" fill="#fff" stroke="#111" stroke-width="1.1"/>
<text class="cs" x="974.2" y="459.6">ii</text>
<circle cx="956.1" cy="570.4" r="9.4" fill="#fff" stroke="#111" stroke-width="1.1"/>
<text class="cs" x="956.1" y="575.4">i</text>
<circle cx="1016.8" cy="502.7" r="9.4" fill="#fff" stroke="#111" stroke-width="1.1"/>
<text class="cs" x="1016.8" y="507.7">iv</text>
<circle cx="1010.5" cy="607.5" r="9.4" fill="#fff" stroke="#111" stroke-width="1.1"/>
<line x1="1004.9" y1="613.1" x2="1016.1" y2="613.1" stroke="#000" stroke-width="0.9"/>
<text class="cs" x="1010.5" y="611.9" style="font-size:13.5px">iii</text>
<circle cx="1034.3" cy="614.2" r="9.4" fill="#fff" stroke="#111" stroke-width="1.1"/>
<text class="cs" x="1034.3" y="618.4000000000001">v</text>
<circle cx="1136" cy="679.1" r="9.4" fill="#fff" stroke="#111" stroke-width="1.1"/>
<text class="cs" x="1136" y="684.1">i</text>
<circle cx="1189.6" cy="563.1" r="9.4" fill="#fff" stroke="#111" stroke-width="1.1"/>
<text class="cs" x="1189.6" y="568.1">ii</text>
<circle cx="1223.5" cy="684.2" r="9.4" fill="#fff" stroke="#111" stroke-width="1.1"/>
<line x1="1217.9" y1="689.8000000000001" x2="1229.1" y2="689.8000000000001" stroke="#000" stroke-width="0.9"/>
<text class="cs" x="1223.5" y="688.6" style="font-size:13.5px">iii</text>
<text class="ps" x="673.9" y="510.1">(c)</text>
<text class="ps" x="656.2" y="529.7">(a)</text>
<text class="ps" x="662.5" y="596.5">(b)</text>
<text class="ps" x="950.9" y="471.4">(b)</text>
<text class="ps" x="925.8" y="524">(a)</text>
<text class="ps" x="956.1" y="554.1">(c)</text>
<text class="ps" x="1005" y="474.6">(b)</text>
<text class="ps" x="997.5" y="514.7">(a)</text>
<text class="ps" x="1010" y="590.4">(c)</text>
<text class="ps" x="1099.6" y="561.3">(ii)</text>
<text class="ps" x="1082.6" y="623.5">(i)</text>
<text class="ps" x="1130.7" y="614">(iv)</text>
<text class="ps" x="1121.5" y="659">(iii)</text>
<text class="ps" x="1136.5" y="662.3">(v)</text>
<text class="ps" x="1171.6" y="591.4">(a)</text>
<text class="ps" x="1190.4" y="591.4">(c)</text>
<text class="ps" x="1184.1" y="634.8">(b)</text>
<circle cx="728" cy="808.5" r="10.3" fill="#fff" stroke="#222" stroke-width="1"/>
<text class="sn" x="728" y="815.4" style="font-size:19px">2</text>
<g shape-rendering="crispEdges">
<rect x="1" y="409" width="1862" height="3" fill="#f00"/>
<rect x="1" y="545" width="1862" height="3" fill="#000"/>
<rect x="1" y="641" width="1862" height="3" fill="#f00"/>
<rect x="1" y="712" width="1862" height="3" fill="#f00"/>
</g>
<g stroke="#2e2e96" stroke-width="3" stroke-linecap="butt">
<line x1="974" y1="458" x2="1311" y2="659.2"/>
<line x1="974" y1="566.5" x2="1311" y2="767.7"/>
</g>
<circle cx="746.8" cy="705.6" r="44" fill="#f00" fill-opacity="0.12" stroke="#e8151b" stroke-width="1.8"/>
<line x1="1209.5" y1="677" x2="1224.5" y2="709" stroke="#000" stroke-width="1.1"/>
<polygon points="1228,716.5 1217.5,707.5 1229,701.5" fill="#000"/>
<g shape-rendering="crispEdges">
<rect x="0" y="0" width="1914" height="1" fill="#000"/>
<rect x="0" y="0" width="1" height="886" fill="#000"/>
<rect x="0" y="885" width="1914" height="1" fill="#000"/>
<rect x="1913" y="0" width="1" height="886" fill="#000"/>
<rect x="1" y="864" width="1863" height="1" fill="#a8a890"/>
<rect x="1863" y="1" width="1" height="864" fill="#a8a890"/>
<rect x="1" y="869" width="1869" height="1" fill="#000"/>
<rect x="1869" y="1" width="1" height="869" fill="#000"/>
<rect x="98" y="864" width="1" height="5" fill="#000"/>
<rect x="218" y="864" width="1" height="5" fill="#000"/>
<rect x="344" y="864" width="1" height="5" fill="#000"/>
<rect x="464" y="864" width="1" height="5" fill="#000"/>
<rect x="578" y="864" width="1" height="5" fill="#000"/>
<rect x="704" y="864" width="1" height="5" fill="#000"/>
<rect x="830" y="864" width="1" height="5" fill="#000"/>
<rect x="956" y="864" width="1" height="5" fill="#000"/>
<rect x="1076" y="864" width="1" height="5" fill="#000"/>
<rect x="1208" y="864" width="1" height="5" fill="#000"/>
<rect x="1340" y="864" width="1" height="5" fill="#000"/>
<rect x="1462" y="864" width="1" height="5" fill="#000"/>
<rect x="1601" y="864" width="1" height="5" fill="#000"/>
<rect x="1718" y="864" width="1" height="5" fill="#000"/>
<rect x="1846" y="864" width="1" height="5" fill="#000"/>
<rect x="1863" y="6" width="6" height="1" fill="#000"/>
<rect x="1866" y="13" width="3" height="1" fill="#000"/>
<rect x="1866" y="20" width="3" height="1" fill="#000"/>
<rect x="1866" y="27" width="3" height="1" fill="#000"/>
<rect x="1866" y="35" width="3" height="1" fill="#000"/>
<rect x="1866" y="42" width="3" height="1" fill="#000"/>
<rect x="1866" y="49" width="3" height="1" fill="#000"/>
<rect x="1866" y="56" width="3" height="1" fill="#000"/>
<rect x="1863" y="64" width="6" height="1" fill="#000"/>
<rect x="1866" y="71" width="3" height="1" fill="#000"/>
<rect x="1866" y="78" width="3" height="1" fill="#000"/>
<rect x="1866" y="85" width="3" height="1" fill="#000"/>
<rect x="1866" y="92" width="3" height="1" fill="#000"/>
<rect x="1866" y="100" width="3" height="1" fill="#000"/>
<rect x="1866" y="107" width="3" height="1" fill="#000"/>
<rect x="1866" y="114" width="3" height="1" fill="#000"/>
<rect x="1863" y="121" width="6" height="1" fill="#000"/>
<rect x="1866" y="129" width="3" height="1" fill="#000"/>
<rect x="1866" y="136" width="3" height="1" fill="#000"/>
<rect x="1866" y="143" width="3" height="1" fill="#000"/>
<rect x="1866" y="150" width="3" height="1" fill="#000"/>
<rect x="1866" y="157" width="3" height="1" fill="#000"/>
<rect x="1866" y="165" width="3" height="1" fill="#000"/>
<rect x="1866" y="172" width="3" height="1" fill="#000"/>
<rect x="1863" y="179" width="6" height="1" fill="#000"/>
<rect x="1866" y="186" width="3" height="1" fill="#000"/>
<rect x="1866" y="194" width="3" height="1" fill="#000"/>
<rect x="1866" y="201" width="3" height="1" fill="#000"/>
<rect x="1866" y="208" width="3" height="1" fill="#000"/>
<rect x="1866" y="215" width="3" height="1" fill="#000"/>
<rect x="1866" y="222" width="3" height="1" fill="#000"/>
<rect x="1866" y="230" width="3" height="1" fill="#000"/>
<rect x="1863" y="237" width="6" height="1" fill="#000"/>
<rect x="1866" y="244" width="3" height="1" fill="#000"/>
<rect x="1866" y="251" width="3" height="1" fill="#000"/>
<rect x="1866" y="259" width="3" height="1" fill="#000"/>
<rect x="1866" y="266" width="3" height="1" fill="#000"/>
<rect x="1866" y="273" width="3" height="1" fill="#000"/>
<rect x="1866" y="280" width="3" height="1" fill="#000"/>
<rect x="1866" y="288" width="3" height="1" fill="#000"/>
<rect x="1863" y="295" width="6" height="1" fill="#000"/>
<rect x="1866" y="302" width="3" height="1" fill="#000"/>
<rect x="1866" y="309" width="3" height="1" fill="#000"/>
<rect x="1866" y="316" width="3" height="1" fill="#000"/>
<rect x="1866" y="324" width="3" height="1" fill="#000"/>
<rect x="1866" y="331" width="3" height="1" fill="#000"/>
<rect x="1866" y="338" width="3" height="1" fill="#000"/>
<rect x="1866" y="345" width="3" height="1" fill="#000"/>
<rect x="1863" y="353" width="6" height="1" fill="#000"/>
<rect x="1866" y="360" width="3" height="1" fill="#000"/>
<rect x="1866" y="367" width="3" height="1" fill="#000"/>
<rect x="1866" y="374" width="3" height="1" fill="#000"/>
<rect x="1866" y="381" width="3" height="1" fill="#000"/>
<rect x="1866" y="389" width="3" height="1" fill="#000"/>
<rect x="1866" y="396" width="3" height="1" fill="#000"/>
<rect x="1866" y="403" width="3" height="1" fill="#000"/>
<rect x="1863" y="410" width="6" height="1" fill="#000"/>
<rect x="1866" y="418" width="3" height="1" fill="#000"/>
<rect x="1866" y="425" width="3" height="1" fill="#000"/>
<rect x="1866" y="432" width="3" height="1" fill="#000"/>
<rect x="1866" y="439" width="3" height="1" fill="#000"/>
<rect x="1866" y="446" width="3" height="1" fill="#000"/>
<rect x="1866" y="454" width="3" height="1" fill="#000"/>
<rect x="1866" y="461" width="3" height="1" fill="#000"/>
<rect x="1863" y="468" width="6" height="1" fill="#000"/>
<rect x="1866" y="475" width="3" height="1" fill="#000"/>
<rect x="1866" y="483" width="3" height="1" fill="#000"/>
<rect x="1866" y="490" width="3" height="1" fill="#000"/>
<rect x="1866" y="497" width="3" height="1" fill="#000"/>
<rect x="1866" y="504" width="3" height="1" fill="#000"/>
<rect x="1866" y="512" width="3" height="1" fill="#000"/>
<rect x="1866" y="519" width="3" height="1" fill="#000"/>
<rect x="1863" y="526" width="6" height="1" fill="#000"/>
<rect x="1866" y="533" width="3" height="1" fill="#000"/>
<rect x="1866" y="540" width="3" height="1" fill="#000"/>
<rect x="1866" y="548" width="3" height="1" fill="#000"/>
<rect x="1866" y="555" width="3" height="1" fill="#000"/>
<rect x="1866" y="562" width="3" height="1" fill="#000"/>
<rect x="1866" y="569" width="3" height="1" fill="#000"/>
<rect x="1866" y="577" width="3" height="1" fill="#000"/>
<rect x="1863" y="584" width="6" height="1" fill="#000"/>
<rect x="1866" y="591" width="3" height="1" fill="#000"/>
<rect x="1866" y="598" width="3" height="1" fill="#000"/>
<rect x="1866" y="605" width="3" height="1" fill="#000"/>
<rect x="1866" y="613" width="3" height="1" fill="#000"/>
<rect x="1866" y="620" width="3" height="1" fill="#000"/>
<rect x="1866" y="627" width="3" height="1" fill="#000"/>
<rect x="1866" y="634" width="3" height="1" fill="#000"/>
<rect x="1863" y="642" width="6" height="1" fill="#000"/>
<rect x="1866" y="649" width="3" height="1" fill="#000"/>
<rect x="1866" y="656" width="3" height="1" fill="#000"/>
<rect x="1866" y="663" width="3" height="1" fill="#000"/>
<rect x="1866" y="670" width="3" height="1" fill="#000"/>
<rect x="1866" y="678" width="3" height="1" fill="#000"/>
<rect x="1866" y="685" width="3" height="1" fill="#000"/>
<rect x="1866" y="692" width="3" height="1" fill="#000"/>
<rect x="1863" y="699" width="6" height="1" fill="#000"/>
<rect x="1866" y="707" width="3" height="1" fill="#000"/>
<rect x="1866" y="714" width="3" height="1" fill="#000"/>
<rect x="1866" y="721" width="3" height="1" fill="#000"/>
<rect x="1866" y="728" width="3" height="1" fill="#000"/>
<rect x="1866" y="735" width="3" height="1" fill="#000"/>
<rect x="1866" y="743" width="3" height="1" fill="#000"/>
<rect x="1866" y="750" width="3" height="1" fill="#000"/>
<rect x="1863" y="757" width="6" height="1" fill="#000"/>
<rect x="1866" y="764" width="3" height="1" fill="#000"/>
<rect x="1866" y="772" width="3" height="1" fill="#000"/>
<rect x="1866" y="779" width="3" height="1" fill="#000"/>
<rect x="1866" y="786" width="3" height="1" fill="#000"/>
<rect x="1866" y="793" width="3" height="1" fill="#000"/>
<rect x="1866" y="800" width="3" height="1" fill="#000"/>
<rect x="1866" y="808" width="3" height="1" fill="#000"/>
<rect x="1863" y="815" width="6" height="1" fill="#000"/>
<rect x="1866" y="822" width="3" height="1" fill="#000"/>
<rect x="1866" y="829" width="3" height="1" fill="#000"/>
<rect x="1866" y="837" width="3" height="1" fill="#000"/>
<rect x="1866" y="844" width="3" height="1" fill="#000"/>
<rect x="1866" y="851" width="3" height="1" fill="#000"/>
</g>
<text class="ax" x="1872.2" y="819.65">300.00</text>
<text class="ax" x="1872.2" y="761.85">320.00</text>
<text class="ax" x="1872.2" y="704.05">340.00</text>
<text class="ax" x="1872.2" y="646.25">360.00</text>
<text class="ax" x="1872.2" y="588.45">380.00</text>
<text class="ax" x="1872.2" y="530.65">400.00</text>
<text class="ax" x="1872.2" y="472.85">420.00</text>
<text class="ax" x="1872.2" y="415.05">440.00</text>
<text class="ax" x="1872.2" y="357.25">460.00</text>
<text class="ax" x="1872.2" y="299.45">480.00</text>
<text class="ax" x="1872.2" y="241.65">500.00</text>
<text class="ax" x="1872.2" y="183.85">520.00</text>
<text class="ax" x="1872.2" y="126.05">540.00</text>
<text class="ax" x="1872.2" y="68.25">560.00</text>
<text class="ax" x="98.5" y="882" text-anchor="middle">Nov-2024</text>
<text class="ax" x="218.5" y="882" text-anchor="middle">Dec-2024</text>
<text class="ax" x="344.5" y="882" text-anchor="middle">Jan-2025</text>
<text class="ax" x="464.5" y="882" text-anchor="middle">Feb-2025</text>
<text class="ax" x="578.5" y="882" text-anchor="middle">Mar-2025</text>
<text class="ax" x="704.5" y="882" text-anchor="middle">Apr-2025</text>
<text class="ax" x="830.5" y="882" text-anchor="middle">May-2025</text>
<text class="ax" x="956.5" y="882" text-anchor="middle">Jun-2025</text>
<text class="ax" x="1076.5" y="882" text-anchor="middle">Jul-2025</text>
<text class="ax" x="1208.5" y="882" text-anchor="middle">Aug-2025</text>
<text class="ax" x="1340.5" y="882" text-anchor="middle">Sep-2025</text>
<text class="ax" x="1462.5" y="882" text-anchor="middle">Oct-2025</text>
<text class="ax" x="1601.5" y="882" text-anchor="middle">Nov-2025</text>
<text class="ax" x="1718.5" y="882" text-anchor="middle">Dec-2025</text>
<path d="M1864.5,677.5 L1869.5,670.5 H1911.5 V684.5 H1869.5 Z" fill="#fff" stroke="#333" stroke-width="1"/>
<path d="M1912.5,671.5 V685.5 H1870.5" fill="none" stroke="#555" stroke-width="1"/>
<text class="ax" x="1872.2" y="681.6">347.50</text>
<text x="6.5" y="16.7" style="font:bold 13px 'Liberation Sans',sans-serif" fill="#111">ADBE - 1 day</text>
<text x="68" y="34" style="font:11px 'Liberation Sans',sans-serif" fill="#f00">BB(20,20,2.0,2.0)</text>
<rect x="1733" y="1" width="120" height="120" fill="#f3282c"/>
<line x1="1846.5" y1="1" x2="1846.5" y2="121" stroke="#c81e22" stroke-width="1" stroke-dasharray="6 4" shape-rendering="crispEdges"/>
<text x="1751" y="64" style="font:bold 34.5px 'Liberation Serif',serif" fill="#fff" textLength="85.5" lengthAdjust="spacingAndGlyphs">FxPro</text>
<text x="1751" y="79.7" style="font:11px 'Liberation Sans',sans-serif" fill="#fff" stroke="#fff" stroke-width="0.25" textLength="84" lengthAdjust="spacingAndGlyphs">Trade Like a Pro</text>
<rect x="1396" y="629" width="237" height="85" fill="#f3282c"/>
<polygon points="1427.7,651.4 1442.7,651.4 1442.7,673.4 1452.2,673.4 1435,691.4 1417,673.4 1427.7,673.4" fill="#fff"/>
<text x="1462" y="686.5" style="font:bold 41px 'Liberation Sans',sans-serif" fill="#fff" stroke="#fff" stroke-width="0.5" textLength="146" lengthAdjust="spacingAndGlyphs">SHORT</text>
</svg></body></html>
